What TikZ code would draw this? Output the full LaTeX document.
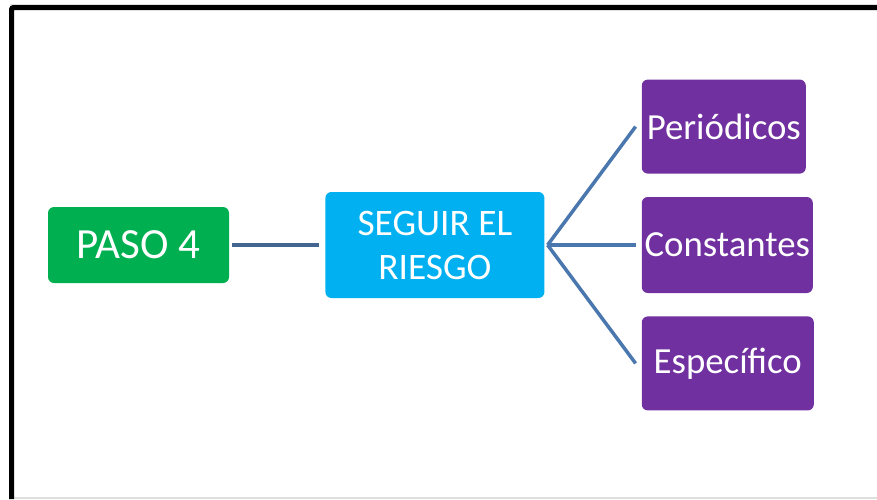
\documentclass[tikz,border=0pt]{standalone}
\usepackage{fontspec}
\setmainfont{Carlito}
\usetikzlibrary{positioning}
\definecolor{pasogreen}{HTML}{00B050}
\definecolor{seguirblue}{HTML}{00B0F0}
\definecolor{tipopurple}{HTML}{7030A0}
\definecolor{linkblue}{HTML}{44658F}
\definecolor{branchblue}{HTML}{4A77AE}
\tikzstyle{paso4box} = [rectangle, rounded corners=6pt, minimum width=181pt, minimum height=76pt, inner sep=0pt, text centered, fill=pasogreen, text=white, font=\fontsize{43}{50}\selectfont]
\tikzstyle{seguirbox} = [rectangle, rounded corners=6pt, minimum width=219pt, minimum height=106pt, inner sep=0pt, align=center, fill=seguirblue, text=white, font=\fontsize{37.4}{44}\selectfont]
\tikzstyle{tipobox} = [rectangle, rounded corners=6pt, minimum height=94pt, inner sep=0pt, text centered, fill=tipopurple, text=white, font=\fontsize{36.8}{42}\selectfont]
\tikzstyle{link} = [line width=4pt, draw=linkblue, shorten <=3pt, shorten >=6pt]
\tikzstyle{branch} = [line width=3.5pt, draw=branchblue]

\begin{document}
\begin{tikzpicture}[x=1pt, y=-1pt]
	\useasboundingbox (0,0) rectangle (877,499);
	% marco
	\draw[gray!25, line width=1pt] (10,4) -- (877,4);
	\draw[gray!25, line width=1.5pt] (14,498) -- (877,498);
	\draw[line width=5pt, rounded corners=2pt] (11.5,499) -- (11.5,7.5) -- (877,7.5);
	\node (paso) [paso4box] at (138.5,245) {PASO 4};
	\node (seguir) [seguirbox, right=96pt of paso] {SEGUIR EL\\RIESGO};
	\node (con) [tipobox, right=97pt of seguir, minimum width=171pt, minimum height=96pt] {Constantes};
	\node (per) [tipobox, above=23pt of con.north west, anchor=south west, minimum width=164pt] {Periódicos};
	\node (esp) [tipobox, below=23pt of con.south west, anchor=north west, minimum width=172pt] {Específico};
	\draw [link] (paso) -- (seguir);
	\coordinate (hub) at ([xshift=3pt]seguir.east);
	\foreach \tipo in {per,con,esp}
		\draw [branch] (hub) -- ([xshift=-6pt]\tipo.west);
\end{tikzpicture}
\end{document}
